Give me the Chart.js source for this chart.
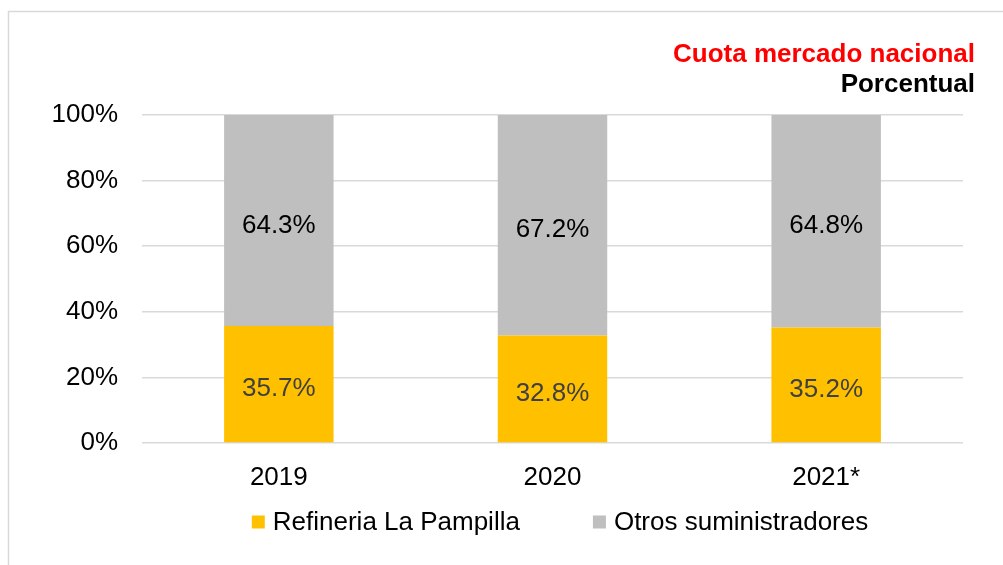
<!DOCTYPE html>
<html>
<head>
<meta charset="utf-8">
<script src="https://cdn.jsdelivr.net/npm/chart.js@4.4.0/dist/chart.umd.min.js"></script>
<style>
  body { margin: 0; background: #fff; }
  canvas { display: block; }
</style>
</head>
<body>
<canvas id="grafico" width="1003" height="565"></canvas>
<script>
var anni = ['2019', '2020', '2021*'];
var refineria = [35.7, 32.8, 35.2];
var otros = [64.3, 67.2, 64.8];
var nomiSerie = ['Refineria La Pampilla', 'Otros suministradores'];
var colori = ['#FFC000', '#BFBFBF'];
var titolo = 'Cuota mercado nacional';
var sottotitolo = 'Porcentual';

var fontBase = '"Liberation Sans", Arial, sans-serif';

// etichette, titolo, legenda e cornice disegnati a mano
var extraPlugin = {
  id: 'extra',
  beforeDraw: function(chart){
    var ctx = chart.ctx;
    ctx.save();
    ctx.strokeStyle = '#d9d9d9';
    ctx.lineWidth = 1.5;
    ctx.beginPath();
    ctx.moveTo(8.5, 565);
    ctx.lineTo(8.5, 11.5);
    ctx.lineTo(1003, 11.5);
    ctx.stroke();
    ctx.restore();
  },
  afterDatasetsDraw: function(chart){
    var ctx = chart.ctx;
    ctx.save();
    ctx.font = '26px ' + fontBase;
    ctx.textAlign = 'center';
    ctx.textBaseline = 'middle';
    chart.data.datasets.forEach(function(ds, i){
      var meta = chart.getDatasetMeta(i);
      meta.data.forEach(function(bar, j){
        var p = bar.getProps(['x', 'y', 'base'], true);
        ctx.fillStyle = i == 0 ? '#404040' : '#000000';
        ctx.fillText(ds.data[j].toFixed(1) + '%', p.x, (p.y + p.base) / 2 + 5);
      });
    });
    ctx.restore();
  },
  afterDraw: function(chart){
    var ctx = chart.ctx;
    ctx.save();
    ctx.textAlign = 'right';
    ctx.textBaseline = 'alphabetic';
    ctx.font = 'bold 26px ' + fontBase;
    ctx.fillStyle = '#FF0000';
    ctx.fillText(titolo, 975, 62);
    ctx.fillStyle = '#000000';
    ctx.fillText(sottotitolo, 975, 92);

    // legenda
    ctx.font = '26px ' + fontBase;
    var box = 13, gap = 8, spazio = 73;
    var larghezze = chart.data.datasets.map(function(ds){ return ctx.measureText(ds.label).width; });
    var totale = 0;
    larghezze.forEach(function(w, k){ totale += box + gap + w + (k > 0 ? spazio : 0); });
    var x = 560 - totale / 2;
    var yc = 522;
    ctx.textAlign = 'left';
    ctx.textBaseline = 'middle';
    chart.data.datasets.forEach(function(ds, k){
      ctx.fillStyle = ds.backgroundColor;
      ctx.fillRect(x, yc - box / 2, box, box);
      ctx.fillStyle = '#000000';
      ctx.fillText(ds.label, x + box + gap, yc + 1);
      x += box + gap + larghezze[k] + spazio;
    });
    ctx.restore();
  }
};

var grafico = new Chart(document.getElementById('grafico'), {
  type: 'bar',
  data: {
    labels: anni,
    datasets: [
      { label: nomiSerie[0], data: refineria, backgroundColor: colori[0], barPercentage: 0.4, categoryPercentage: 1 },
      { label: nomiSerie[1], data: otros, backgroundColor: colori[1], barPercentage: 0.4, categoryPercentage: 1 }
    ]
  },
  options: {
    responsive: false,
    animation: false,
    layout: { padding: { top: 115, right: 40, bottom: 77, left: 0 } },
    plugins: {
      legend: { display: false },
      title: { display: false },
      tooltip: { enabled: false }
    },
    scales: {
      x: {
        stacked: true,
        grid: { display: false, drawTicks: false },
        border: { display: false },
        ticks: { color: '#000', font: { family: fontBase, size: 26 }, padding: 19 },
        afterFit: function(scale){ scale.height = 45; }
      },
      y: {
        stacked: true,
        min: 0,
        max: 100,
        ticks: {
          stepSize: 20,
          color: '#000',
          padding: 24,
          font: { family: fontBase, size: 26 },
          callback: function(v){ return v + '%'; }
        },
        grid: { color: '#d9d9d9', lineWidth: 1.5, drawTicks: false },
        border: { display: false },
        afterFit: function(scale){ scale.width = 142; }
      }
    }
  },
  plugins: [extraPlugin]
});
</script>
</body>
</html>
